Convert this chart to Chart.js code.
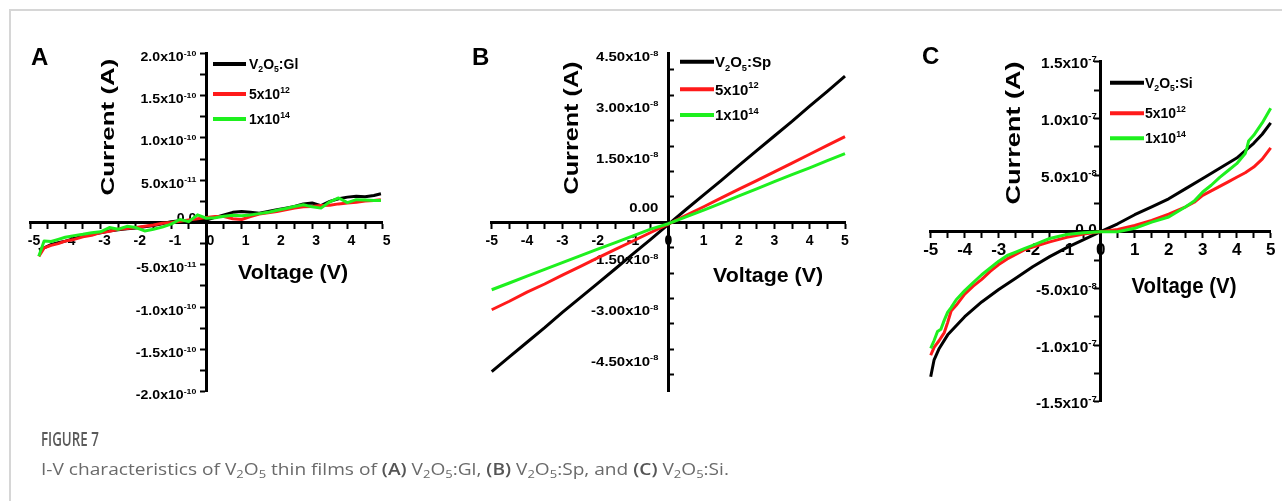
<!DOCTYPE html>
<html>
<head>
<meta charset="utf-8">
<script src="https://cdn.jsdelivr.net/npm/chart.js@4.4.1/dist/chart.umd.min.js"></script>
<style>
  html, body { margin: 0; padding: 0; background: #fff; }
  #page { position: relative; width: 1282px; height: 501px; overflow: hidden; background: #fff; }
  #frame { position: absolute; left: 9px; top: 9px; width: 1290px; height: 510px;
           border-top: 2px solid #d6d6d6; border-left: 2px solid #d6d6d6; }
  canvas { position: absolute; left: 0; top: 0; }
  .cap { position: absolute; left: 41px; white-space: nowrap; transform-origin: 0 0; font-family: 'Open Sans', sans-serif; }
  #capTitle { top: 425px; font-size: 20px; font-weight: 600; color: #5a5a5a; }
  #capText { top: 458px; font-size: 16px; color: #6a6a6a; }
  #capText b { font-weight: 600; color: #555; }
  #capText sub { font-size: 68%; vertical-align: -3px; line-height: 0; }
</style>
</head>
<body>
<div id="page">
  <div id="frame"></div>
  <canvas id="panelA" width="1282" height="501"></canvas>
  <canvas id="panelB" width="1282" height="501"></canvas>
  <canvas id="panelC" width="1282" height="501"></canvas>
  <div class="cap" id="capTitle">FIGURE 7</div>
  <div class="cap" id="capText">I-V characteristics of V<sub>2</sub>O<sub>5</sub> thin films of <b>(A)</b> V<sub>2</sub>O<sub>5</sub>:Gl, <b>(B)</b> V<sub>2</sub>O<sub>5</sub>:Sp, and <b>(C)</b> V<sub>2</sub>O<sub>5</sub>:Si.</div>
</div>
<script>
// ---------- shared voltage axis ----------
const xTicks = [-5, -4.5, -4, -3.5, -3, -2.5, -2, -1.5, -1, -0.5, 0, 0.5, 1, 1.5, 2, 2.5, 3, 3.5, 4, 4.5, 5];
const xTickLabels = ['-5', '', '-4', '', '-3', '', '-2', '', '-1', '', '0', '', '1', '', '2', '', '3', '', '4', '', '5'];

// ---------- (A) V2O5:Gl, current in A ----------
const voltGl = [-4.75, -4.6, -4.4, -4.2, -4.0, -3.75, -3.5, -3.25, -3.0, -2.75, -2.5, -2.25, -2.0, -1.75, -1.5, -1.25, -1.0, -0.75, -0.5, -0.25, 0, 0.25, 0.5, 0.75, 1.0, 1.25, 1.5, 1.75, 2.0, 2.25, 2.5, 2.75, 3.0, 3.25, 3.5, 3.75, 4.0, 4.25, 4.5, 4.75, 4.95];
const glPristine = [-3.2e-11, -3.0e-11, -2.6e-11, -2.4e-11, -2.2e-11, -1.9e-11, -1.6e-11, -1.4e-11, -1.2e-11, -1.0e-11, -0.85e-11, -0.75e-11, -0.65e-11, -0.5e-11, -0.35e-11, -0.15e-11, 0.1e-11, 0.2e-11, 0.1e-11, 0.2e-11, 0.3e-11, 0.6e-11, 0.9e-11, 1.2e-11, 1.3e-11, 1.2e-11, 1.1e-11, 1.3e-11, 1.5e-11, 1.7e-11, 1.9e-11, 2.2e-11, 2.3e-11, 2.0e-11, 2.5e-11, 2.8e-11, 3.0e-11, 3.1e-11, 3.05e-11, 3.2e-11, 3.4e-11];
const glDose5e12 = [-4.0e-11, -3.0e-11, -2.7e-11, -2.5e-11, -2.2e-11, -2.0e-11, -1.7e-11, -1.5e-11, -1.2e-11, -1.05e-11, -0.8e-11, -0.7e-11, -0.6e-11, -0.45e-11, -0.3e-11, -0.1e-11, 0.0, 0.15e-11, 0.3e-11, 0.45e-11, 0.6e-11, 0.7e-11, 0.7e-11, 0.45e-11, 0.35e-11, 0.7e-11, 1.0e-11, 1.15e-11, 1.3e-11, 1.5e-11, 1.7e-11, 1.85e-11, 1.9e-11, 2.0e-11, 2.05e-11, 2.2e-11, 2.3e-11, 2.4e-11, 2.55e-11, 2.6e-11, 2.7e-11];
const glDose1e14 = [-4.0e-11, -2.2e-11, -2.25e-11, -2.0e-11, -1.75e-11, -1.55e-11, -1.4e-11, -1.2e-11, -1.1e-11, -0.6e-11, -0.8e-11, -0.45e-11, -0.6e-11, -1.0e-11, -0.8e-11, -0.55e-11, -0.2e-11, 0.35e-11, 0.1e-11, 0.9e-11, 0.5e-11, 0.55e-11, 0.75e-11, 0.85e-11, 0.8e-11, 0.9e-11, 1.05e-11, 1.2e-11, 1.45e-11, 1.65e-11, 1.9e-11, 2.1e-11, 1.85e-11, 1.7e-11, 2.45e-11, 2.9e-11, 2.35e-11, 2.7e-11, 2.65e-11, 2.6e-11, 2.6e-11];
const glTickMarks = [-2e-10, -1.75e-10, -1.5e-10, -1.25e-10, -1e-10, -7.5e-11, -5e-11, -2.5e-11, 0, 2.5e-11, 5e-11, 7.5e-11, 1e-10, 1.25e-10, 1.5e-10, 1.75e-10, 2e-10];
const glLabelValues = [2e-10, 1.5e-10, 1e-10, 5e-11, 0, -5e-11, -1e-10, -1.5e-10, -2e-10];
const glLabelMantissa = ['2.0x10', '1.5x10', '1.0x10', '5.0x10', '0.0', '-5.0x10', '-1.0x10', '-1.5x10', '-2.0x10'];
const glLabelExponent = ['-10', '-10', '-10', '-11', '', '-11', '-10', '-10', '-10'];

// ---------- (B) V2O5:Sp ----------
const voltSp = [-5, -4.5, -4, -3.5, -3, -2.5, -2, -1.5, -1, -0.5, 0, 0.5, 1, 1.5, 2, 2.5, 3, 3.5, 4, 4.5, 5];
const spPristine = [-4.41e-8, -3.97e-8, -3.54e-8, -3.11e-8, -2.66e-8, -2.23e-8, -1.80e-8, -1.37e-8, -0.93e-8, -0.50e-8, -0.06e-8, 0.38e-8, 0.81e-8, 1.24e-8, 1.68e-8, 2.12e-8, 2.55e-8, 2.98e-8, 3.43e-8, 3.87e-8, 4.32e-8];
const spDose5e12 = [-2.58e-8, -2.33e-8, -2.06e-8, -1.82e-8, -1.56e-8, -1.31e-8, -1.05e-8, -0.80e-8, -0.55e-8, -0.30e-8, -0.05e-8, 0.21e-8, 0.46e-8, 0.72e-8, 0.98e-8, 1.23e-8, 1.49e-8, 1.75e-8, 2.01e-8, 2.27e-8, 2.53e-8];
const spDose1e14 = [-1.99e-8, -1.79e-8, -1.59e-8, -1.39e-8, -1.19e-8, -0.99e-8, -0.79e-8, -0.60e-8, -0.40e-8, -0.20e-8, -0.04e-8, 0.16e-8, 0.36e-8, 0.57e-8, 0.78e-8, 0.99e-8, 1.20e-8, 1.41e-8, 1.61e-8, 1.82e-8, 2.03e-8];
const spTickMarks = [-4.5e-8, -3.75e-8, -3e-8, -2.25e-8, -1.5e-8, -0.75e-8, 0, 0.75e-8, 1.5e-8, 2.25e-8, 3e-8, 3.75e-8, 4.5e-8];
const spLabelValues = [4.5e-8, 3e-8, 1.5e-8, 0, -1.5e-8, -3e-8, -4.5e-8];
const spLabelMantissa = ['4.50x10', '3.00x10', '1.50x10', '0.00', '-1.50x10', '-3.00x10', '-4.50x10'];
const spLabelExponent = ['-8', '-8', '-8', '', '-8', '-8', '-8'];

// ---------- (C) V2O5:Si ----------
const voltSiPristine = [-5, -4.9, -4.75, -4.5, -4.25, -4, -3.5, -3, -2.5, -2, -1.5, -1, -0.5, 0, 0.5, 1, 1.5, 2, 2.5, 3, 3.5, 4, 4.5, 4.75, 5];
const siPristine = [-12.8e-8, -11.3e-8, -10.3e-8, -9.1e-8, -8.3e-8, -7.5e-8, -6.2e-8, -5.1e-8, -4.1e-8, -3.1e-8, -2.2e-8, -1.4e-8, -0.7e-8, 0, 0.7e-8, 1.5e-8, 2.2e-8, 2.9e-8, 3.8e-8, 4.7e-8, 5.6e-8, 6.5e-8, 7.8e-8, 8.6e-8, 9.6e-8];
const voltSi5e12 = [-5, -4.9, -4.75, -4.6, -4.5, -4.4, -4.25, -4, -3.75, -3.5, -3.25, -3, -2.75, -2.5, -2.25, -2, -1.5, -1, -0.5, 0, 0.5, 1, 1.5, 2, 2.5, 2.75, 3, 3.25, 3.5, 3.75, 4, 4.25, 4.5, 4.75, 5];
const siDose5e12 = [-10.9e-8, -10.2e-8, -9.6e-8, -8.9e-8, -8.0e-8, -7.0e-8, -6.5e-8, -5.5e-8, -4.8e-8, -4.2e-8, -3.5e-8, -2.9e-8, -2.4e-8, -2.0e-8, -1.6e-8, -1.35e-8, -0.9e-8, -0.5e-8, -0.2e-8, 0, 0.2e-8, 0.55e-8, 1.0e-8, 1.55e-8, 2.2e-8, 2.6e-8, 3.2e-8, 3.6e-8, 4.0e-8, 4.4e-8, 4.8e-8, 5.2e-8, 5.7e-8, 6.4e-8, 7.4e-8];
const voltSi1e14 = [-5, -4.9, -4.8, -4.7, -4.6, -4.5, -4.4, -4.25, -4, -3.75, -3.5, -3.25, -3, -2.75, -2.5, -2.25, -2, -1.75, -1.5, -1, -0.5, 0, 0.5, 1, 1.5, 2, 2.5, 2.75, 3, 3.25, 3.5, 3.75, 4, 4.25, 4.3, 4.35, 4.5, 4.75, 5];
const siDose1e14 = [-10.3e-8, -9.6e-8, -8.8e-8, -8.6e-8, -7.8e-8, -7.1e-8, -6.7e-8, -6.0e-8, -5.2e-8, -4.5e-8, -3.8e-8, -3.2e-8, -2.6e-8, -2.1e-8, -1.8e-8, -1.5e-8, -1.2e-8, -0.9e-8, -0.6e-8, -0.25e-8, -0.1e-8, 0, 0, 0.3e-8, 0.85e-8, 1.3e-8, 2.2e-8, 2.7e-8, 3.5e-8, 4.1e-8, 4.8e-8, 5.4e-8, 6.0e-8, 6.9e-8, 7.4e-8, 8.0e-8, 8.5e-8, 9.6e-8, 10.9e-8];
const siTickMarks = [-1.5e-7, -1.25e-7, -1e-7, -7.5e-8, -5e-8, -2.5e-8, 0, 2.5e-8, 5e-8, 7.5e-8, 1e-7, 1.25e-7, 1.5e-7];
const siLabelValues = [1.5e-7, 1e-7, 5e-8, 0, -5e-8, -1e-7, -1.5e-7];
const siLabelMantissa = ['1.5x10', '1.0x10', '5.0x10', '0.0', '-5.0x10', '-1.0x10', '-1.5x10'];
const siLabelExponent = ['-7', '-7', '-8', '', '-8', '-7', '-7'];

// ---------- legend entries ----------
const doseLegend5e12 = [{ t: '5x10' }, { t: '12', k: 'sup' }];
const doseLegend1e14 = [{ t: '1x10' }, { t: '14', k: 'sup' }];
const pristineLegend = sub => [{ t: 'V' }, { t: '2', k: 'sub' }, { t: 'O' }, { t: '5', k: 'sub' }, { t: ':' + sub }];

const BLACK = '#000000', RED = '#ff1a1a', GREEN = '#1ef01e';
const FAMILY = "'Liberation Sans', Arial, sans-serif";
const W = 1282, H = 501;

// ---------- text helpers ----------
function drawRich(ctx, segs, x, y, size, sx, align) {
  const parts = segs.map(s => {
    const small = s.k === 'sup' || s.k === 'sub';
    const fs = small ? size * 0.62 : size;
    ctx.font = `bold ${fs}px ${FAMILY}`;
    return { s, fs, w: ctx.measureText(s.t).width * sx };
  });
  const total = parts.reduce((a, p) => a + p.w, 0);
  let cx = align === 'right' ? x - total : (align === 'center' ? x - total / 2 : x);
  const base = y + size * 0.36;
  ctx.textAlign = 'left';
  ctx.textBaseline = 'alphabetic';
  parts.forEach(p => {
    ctx.font = `bold ${p.fs}px ${FAMILY}`;
    let by = base;
    if (p.s.k === 'sup') by = base - size * 0.42;
    if (p.s.k === 'sub') by = base + size * 0.24;
    ctx.save();
    ctx.translate(cx, by);
    ctx.scale(sx, 1);
    ctx.fillText(p.s.t, 0, 0);
    ctx.restore();
    cx += p.w;
  });
}

function drawFitted(ctx, text, cx, cy, size, len, vertical) {
  ctx.save();
  ctx.font = `bold ${size}px ${FAMILY}`;
  const w = ctx.measureText(text).width;
  ctx.translate(cx, cy);
  if (vertical) ctx.rotate(-Math.PI / 2);
  ctx.scale(len / w, 1);
  ctx.textAlign = 'center';
  ctx.textBaseline = 'middle';
  ctx.fillText(text, 0, 0);
  ctx.restore();
}

// Axis titles, tick labels with exponents, panel letter and legend
const panelText = {
  id: 'panelText',
  beforeDraw(chart, args, o) {
    const ctx = chart.ctx;
    const xs = chart.scales.x, ys = chart.scales.y;
    const x0 = xs.getPixelForValue(0);
    ctx.save();
    ctx.fillStyle = '#000';
    o.labelValues.forEach((v, i) => {
      const y = ys.getPixelForValue(v) + (v === 0 ? o.zeroDy : o.labelDy);
      const segs = [{ t: o.mantissa[i] }];
      if (o.exponent[i]) segs.push({ t: o.exponent[i], k: 'sup' });
      drawRich(ctx, segs, x0 - o.labelGap, y, o.labelSize, o.labelStretch, 'right');
    });
    drawFitted(ctx, 'Current (A)', o.yTitle[0], o.yTitle[1], o.yTitle[2], o.yTitle[3], true);
    drawFitted(ctx, 'Voltage (V)', o.xTitle[0], o.xTitle[1], o.xTitle[2], o.xTitle[3], false);
    ctx.font = `bold 24px ${FAMILY}`;
    ctx.textAlign = 'left';
    ctx.textBaseline = 'alphabetic';
    ctx.fillText(o.letter[0], o.letter[1], o.letter[2]);
    const lg = o.legend;
    lg.items.forEach((it, i) => {
      const y = lg.ys[i];
      ctx.strokeStyle = it.color;
      ctx.lineWidth = 4;
      ctx.beginPath();
      ctx.moveTo(lg.x1, y);
      ctx.lineTo(lg.x2, y);
      ctx.stroke();
      drawRich(ctx, it.segs, lg.textX, y, lg.size, 1, 'left');
    });
    ctx.restore();
  }
};

function makePanel(id, p) {
  const datasets = p.series.map(s => ({
    data: s.v.map((x, j) => ({ x, y: s.i[j] })),
    borderColor: s.color,
    borderWidth: 3,
    pointRadius: 0,
    tension: 0,
    order: s.order,
    clip: false,
    borderJoinStyle: 'round'
  }));
  const axisGrid = len => ({ drawOnChartArea: false, drawTicks: true, tickLength: len, tickWidth: 2, tickColor: '#000' });
  const axisBorder = { display: true, color: '#000', width: 3 };
  return new Chart(document.getElementById(id), {
    type: 'line',
    data: { datasets },
    options: {
      responsive: false,
      animation: false,
      events: [],
      layout: { padding: { left: p.area[0], right: W - p.area[1], top: p.area[2], bottom: H - p.area[3] } },
      scales: {
        x: {
          type: 'linear', min: -5, max: 5, position: { y: 0 },
          afterBuildTicks: ax => { ax.ticks = xTicks.map(v => ({ value: v })); },
          ticks: {
            autoSkip: false, maxRotation: 0, minRotation: 0,
            callback: (v, i) => xTickLabels[i],
            color: '#000', padding: p.xPad, labelOffset: p.xLabelOffset,
            font: { family: FAMILY, size: p.xFont, weight: 'bold' }
          },
          grid: axisGrid(5),
          border: axisBorder
        },
        y: {
          type: 'linear', min: p.yRange[0], max: p.yRange[1], position: { x: 0 },
          afterBuildTicks: ax => { ax.ticks = p.yMarks.map(v => ({ value: v })); },
          ticks: { autoSkip: false, callback: () => '' },
          grid: axisGrid(p.yTickLen),
          border: axisBorder
        }
      },
      plugins: { legend: { display: false }, tooltip: { enabled: false }, panelText: p.text }
    },
    plugins: [panelText]
  });
}

makePanel('panelA', {
  area: [30, 382.7, 53.3, 391.7],
  yRange: [-2e-10, 2e-10],
  yMarks: glTickMarks,
  yTickLen: 5,
  xFont: 14, xPad: 5, xLabelOffset: 4,
  series: [
    { v: voltGl, i: glPristine, color: BLACK, order: 3 },
    { v: voltGl, i: glDose5e12, color: RED, order: 2 },
    { v: voltGl, i: glDose1e14, color: GREEN, order: 1 }
  ],
  text: {
    labelValues: glLabelValues, mantissa: glLabelMantissa, exponent: glLabelExponent,
    labelGap: 10, labelSize: 12.5, labelStretch: 1.13, labelDy: 3, zeroDy: -5,
    yTitle: [109, 127, 19, 137], xTitle: [293, 273.5, 21, 110],
    letter: ['A', 31, 65],
    legend: {
      x1: 213, x2: 246, textX: 249, size: 14, ys: [64, 94, 119],
      items: [
        { color: BLACK, segs: pristineLegend('Gl') },
        { color: RED, segs: doseLegend5e12 },
        { color: GREEN, segs: doseLegend1e14 }
      ]
    }
  }
});

makePanel('panelB', {
  area: [491.7, 845, 53, 391.7],
  yRange: [-5e-8, 5e-8],
  yMarks: spTickMarks,
  yTickLen: -7,
  xFont: 14, xPad: 5, xLabelOffset: 0,
  series: [
    { v: voltSp, i: spPristine, color: BLACK, order: 3 },
    { v: voltSp, i: spDose5e12, color: RED, order: 2 },
    { v: voltSp, i: spDose1e14, color: GREEN, order: 1 }
  ],
  text: {
    labelValues: spLabelValues, mantissa: spLabelMantissa, exponent: spLabelExponent,
    labelGap: 10, labelSize: 13, labelStretch: 1.15, labelDy: -13.5, zeroDy: -15.5,
    yTitle: [572, 128, 20, 133], xTitle: [768, 276, 21, 110],
    letter: ['B', 472, 65],
    legend: {
      x1: 680, x2: 714, textX: 715, size: 15, ys: [61.7, 89.3, 115],
      items: [
        { color: BLACK, segs: pristineLegend('Sp') },
        { color: RED, segs: doseLegend5e12 },
        { color: GREEN, segs: doseLegend1e14 }
      ]
    }
  }
});

makePanel('panelC', {
  area: [930.7, 1270.7, 61.7, 401.7],
  yRange: [-1.5e-7, 1.5e-7],
  yMarks: siTickMarks,
  yTickLen: 5,
  xFont: 17, xPad: 3, xLabelOffset: 0,
  series: [
    { v: voltSiPristine, i: siPristine, color: BLACK, order: 3 },
    { v: voltSi5e12, i: siDose5e12, color: RED, order: 2 },
    { v: voltSi1e14, i: siDose1e14, color: GREEN, order: 1 }
  ],
  text: {
    labelValues: siLabelValues, mantissa: siLabelMantissa, exponent: siLabelExponent,
    labelGap: 4, labelSize: 14, labelStretch: 1.1, labelDy: 1.5, zeroDy: -3,
    yTitle: [1014, 133, 20, 143], xTitle: [1184, 287, 22, 105],
    letter: ['C', 922, 64],
    legend: {
      x1: 1110, x2: 1144, textX: 1145, size: 14, ys: [82.7, 113.3, 138.3],
      items: [
        { color: BLACK, segs: pristineLegend('Si') },
        { color: RED, segs: doseLegend5e12 },
        { color: GREEN, segs: doseLegend1e14 }
      ]
    }
  }
});

// Caption lines squeezed to their set widths
function fitWidth(id, target) {
  const el = document.getElementById(id);
  el.style.transform = `scaleX(${target / el.offsetWidth})`;
}
fitWidth('capTitle', 58);
fitWidth('capText', 688);
</script>
</body>
</html>
